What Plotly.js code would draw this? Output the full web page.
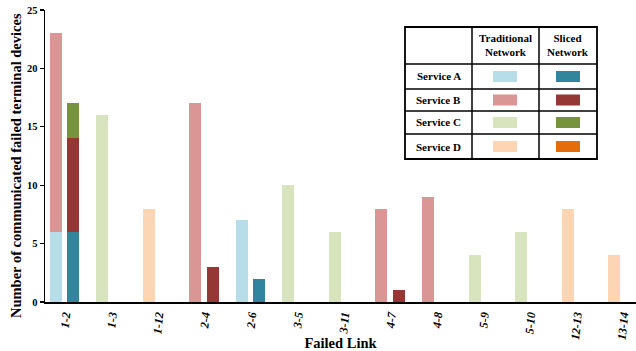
<!DOCTYPE html>
<html><head><meta charset="utf-8">
<script src="https://cdn.plot.ly/plotly-3.0.1.min.js"></script>
<style>html,body{margin:0;padding:0;background:#fff}#c{width:636px;height:351px}</style>
</head><body><div id="c"></div>
<script>
var links = ['1-2','1-3','1-12','2-4','2-6','3-5','3-11','4-7','4-8','5-9','5-10','12-13','13-14'];
var services = ['Service A','Service B','Service C','Service D'];
// traditional network values per service
var tradA = [6,0,0,0,7,0,0,0,0,0,0,0,0];
var tradB = [17,0,0,17,0,0,0,8,9,0,0,0,0];
var tradC = [0,16,0,0,0,10,6,0,0,4,6,0,0];
var tradD = [0,0,8,0,0,0,0,0,0,0,0,8,4];
// sliced network values per service
var slicA = [6,0,0,0,2,0,0,0,0,0,0,0,0];
var slicB = [8,0,0,3,0,0,0,1,0,0,0,0,0];
var slicC = [3,0,0,0,0,0,0,0,0,0,0,0,0];
var slicD = [0,0,0,0,0,0,0,0,0,0,0,0,0];
var yTicks = [0,5,10,15,20,25];

var tradColors = ['#b7dde8','#d99694','#d7e4bd','#fcd5b5'];
var slicColors = ['#31859c','#953735','#77933c','#e46c0a'];

var idx = links.map(function(_,i){return i;});
var off = 0.183, bw = 0.258;
var traces = [];
[tradA,tradB,tradC,tradD].forEach(function(v,k){
  traces.push({type:'bar', x: idx.map(function(i){return i-off;}), y: v, width: bw,
    marker:{color: tradColors[k], line:{width:0}}, name: services[k]+' trad', showlegend:false, hoverinfo:'skip'});
});
[slicA,slicB,slicC,slicD].forEach(function(v,k){
  traces.push({type:'bar', x: idx.map(function(i){return i+off;}), y: v, width: bw,
    marker:{color: slicColors[k], line:{width:0}}, name: services[k]+' sliced', showlegend:false, hoverinfo:'skip'});
});

var L=45, T=10, W=591, H=292;
function px(x){return (x-L)/W;}
function py(y){return 1-(y-T)/H;}
var shapes=[], ann=[];
var tx0=405, tx1=597, ty0=27, ty1=159;
var rows=[27,64,89,111,134,159];
shapes.push({type:'rect', xref:'paper', yref:'paper', x0:px(tx0), x1:px(tx1), y0:py(ty0), y1:py(ty1), line:{color:'#000', width:1.8}, fillcolor:'rgba(255,255,255,1)', layer:'above'});
[472,539].forEach(function(c){
  shapes.push({type:'line', xref:'paper', yref:'paper', x0:px(c), x1:px(c), y0:py(ty0), y1:py(ty1), line:{color:'#000', width:1.5}, layer:'above'});
});
rows.slice(1,-1).forEach(function(r){
  shapes.push({type:'line', xref:'paper', yref:'paper', x0:px(tx0), x1:px(tx1), y0:py(r), y1:py(r), line:{color:'#000', width:1.5}, layer:'above'});
});
var tf = {family:'Liberation Serif', size:11, color:'#000'};
function note(x,y,t){ann.push({xref:'paper', yref:'paper', x:px(x), y:py(y), xanchor:'center', yanchor:'middle', text:t, showarrow:false, font:tf, align:'center'});}
note(505.5,45.5,'<b>Traditional<br>Network</b>');
note(568,45.5,'<b>Sliced<br>Network</b>');
services.forEach(function(s,k){
  var yc=(rows[k+1]+rows[k+2])/2;
  note(438.5,yc,'<b>'+s+'</b>');
  shapes.push({type:'rect', xref:'paper', yref:'paper', x0:px(493), x1:px(517), y0:py(yc-5.5), y1:py(yc+5.5), line:{width:0}, fillcolor:tradColors[k], layer:'above'});
  shapes.push({type:'rect', xref:'paper', yref:'paper', x0:px(556), x1:px(580), y0:py(yc-5.5), y1:py(yc+5.5), line:{width:0}, fillcolor:slicColors[k], layer:'above'});
});
// y-axis title (placed like the reference, slightly below plot centre)
ann.push({xref:'paper', yref:'paper', x:px(16), y:py(166), xanchor:'center', yanchor:'middle', textangle:-90,
  text:'<b>Number of communicated failed terminal devices</b>', showarrow:false,
  font:{family:'Liberation Serif', size:14.5, color:'#000'}});

var layout = {
  width:636, height:351, margin:{l:L, r:0, t:T, b:49},
  paper_bgcolor:'#fff', plot_bgcolor:'#fff',
  barmode:'stack', showlegend:false,
  font:{family:'Liberation Serif', color:'#000'},
  xaxis:{range:[-0.419,12.29], tickvals: idx, ticktext: links.map(function(l){return '<b><i>'+l+'</i></b>';}),
    tickangle:-84, tickfont:{family:'Liberation Serif', size:12, color:'#000'},
    showgrid:false, zeroline:false, showline:true, linecolor:'#000', linewidth:1.5, ticks:'',
    title:{text:'<b>Failed Link</b>', font:{family:'Liberation Serif', size:14.5, color:'#000'}, standoff:2}},
  yaxis:{range:[0,25], tickvals:yTicks, ticktext: yTicks.map(function(t){return '<b>'+t+'</b>';}),
    tickfont:{family:'Liberation Serif', size:10.5, color:'#000'},
    showgrid:false, zeroline:false, showline:true, linecolor:'#000', linewidth:1.5, ticks:'outside', ticklen:4, tickcolor:'#000', tickwidth:1.2},
  shapes:shapes, annotations:ann
};
Plotly.newPlot('c', traces, layout, {staticPlot:true, displayModeBar:false});
</script></body></html>
